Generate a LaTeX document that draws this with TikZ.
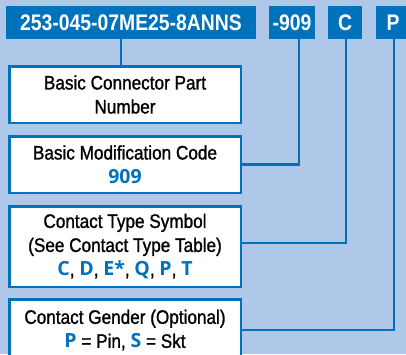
\documentclass[tikz,border=0pt]{standalone}
\usepackage{fontspec}
\setmainfont[FakeStretch=0.86]{Liberation Sans}
\newfontfamily\boxfont[FakeStretch=0.88,FakeBold=1.2]{Liberation Sans}
\newfontfamily\blfont{Open Sans}
\definecolor{bgc}{HTML}{AFC7E8}
\definecolor{blc}{HTML}{0072BC}
\newcommand\bltx[1]{{\blfont\bfseries\color{blc}#1}}
\begin{document}
\begin{tikzpicture}[x=1pt,y=-1pt,
  topbox/.style={fill=blc, text=white, font=\bfseries\fontsize{22.5}{26}\selectfont, inner sep=0pt, minimum height=33pt},
  infobox/.style={draw=blc, line width=2.5pt, fill=white, inner sep=0pt, align=center, minimum width=231.5pt, font=\boxfont\fontsize{19.5}{24}\selectfont},
  conn/.style={draw=blc, line width=2.5pt}]
\fill[bgc] (0,0) rectangle (406,354);
\useasboundingbox (0,0) rectangle (406,354);
% top boxes
\node[topbox, minimum width=250pt] (t1) at (131,22.5) {253-045-07ME25-8ANNS};
\node[topbox, minimum width=46pt] (t2) at (292,22.5) {-909};
\node[topbox, minimum width=34pt] (t3) at (345,22.5) {C};
\node[topbox, minimum width=34pt] (t4) at (393,22.5) {P};
% info boxes
\node[infobox, minimum height=56.5pt] (bA) at (125,94.5) {Basic Connector Part\\Number};
\node[infobox, minimum height=56.5pt] (bB) at (125,164.5) {Basic Modification Code\\\bltx{909}};
\node[infobox, minimum height=80.5pt] (bC) at (125,246.5) {Contact Type Symbol\\(See Contact Type Table)\\\bltx{C}, \bltx{D}, \bltx{E*}, \bltx{Q}, \bltx{P}, \bltx{T}};
\node[infobox, minimum height=61.5pt] (bD) at (125,330) {Contact Gender (Optional)\\\bltx{P} = Pin, \bltx{S} = Skt};
% connectors
\draw[conn] ([xshift=-10pt]t1.south) -- ([xshift=-10pt]t1.south |- bA.north);
\draw[conn] ([xshift=7pt]t2.south) |- (bB.east);
\draw[conn] ([xshift=1pt]t3.south) |- ([yshift=3.5pt]bC.east);
\draw[conn] ([xshift=1pt]t4.south) |- (bD.east);
\end{tikzpicture}
\end{document}
